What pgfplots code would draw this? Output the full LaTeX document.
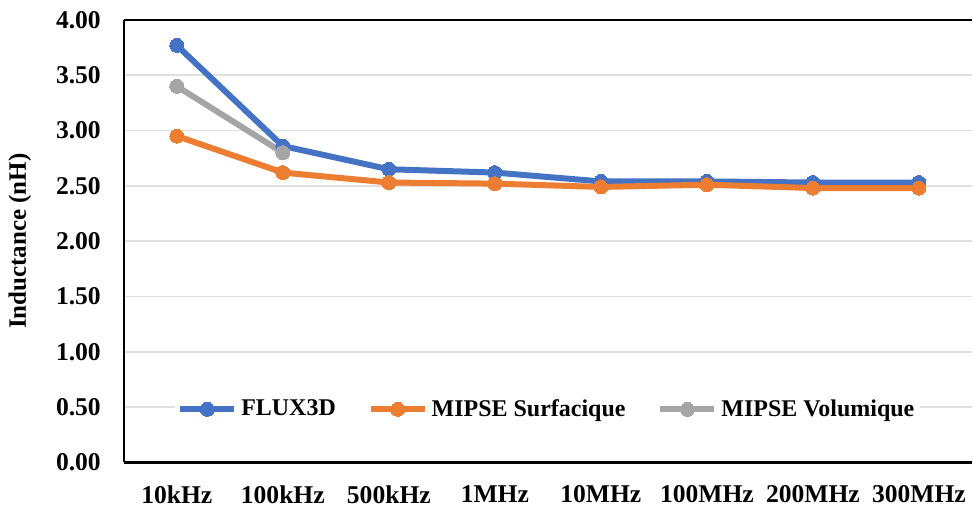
\documentclass[border=0pt]{standalone}
\usepackage{fontspec}
\setmainfont{Liberation Serif}
\usepackage{pgfplots}
\pgfplotsset{compat=1.18}
\definecolor{cblue}{HTML}{4472C4}
\definecolor{corange}{HTML}{ED7D31}
\definecolor{cgray}{HTML}{A5A5A5}
\begin{document}
\begin{tikzpicture}
\begin{axis}[
  scale only axis, width=424.5pt, height=221.5pt,
  xmin=-0.5, xmax=7.5, ymin=0, ymax=4,
  axis x line=box, axis y line=left,
  axis line style={-, black, line width=1.1pt},
  clip=false,
  xtick={0,...,7},
  xticklabels={10kHz,100kHz,500kHz,1MHz,10MHz,100MHz,200MHz,300MHz},
  ytick={0,0.5,...,4},
  yticklabel={\pgfmathprintnumber[fixed,fixed zerofill,precision=2,assume math mode=true]{\tick}},
  major tick length=0pt,
  ymajorgrids, grid style={black!12, line width=0.8pt},
  tick label style={font=\fontsize{12.8}{15}\selectfont\bfseries},
  xticklabel style={yshift=-8pt},
  yticklabel style={xshift=-8pt},
  ylabel={Inductance (nH)},
  every axis y label/.style={at={(axis description cs:-0.1225,0.5)}, rotate=90, anchor=center,
    font=\fontsize{12.5}{15}\selectfont\bfseries},
  legend style={at={(0.5,0.12)}, anchor=center, draw=none, fill=white, legend columns=-1,
    font=\fontsize{12}{14}\selectfont\bfseries, inner sep=1pt,
    /tikz/every even column/.append style={column sep=14pt}},
  legend image code/.code={\draw[mark repeat=2,mark phase=2] plot coordinates {(0pt,0pt) (13.5pt,0pt) (27pt,0pt)};},
]
\path (axis description cs:-0.146,-0.1038) rectangle (axis description cs:1,1.045);
\addplot[cblue, line width=3pt, mark=*, mark size=3.5pt, mark options={fill=cblue, draw=cblue, line width=0pt}]
  coordinates {(0,3.77) (1,2.86) (2,2.65) (3,2.62) (4,2.54) (5,2.54) (6,2.53) (7,2.53)};
\addlegendentry{FLUX3D}
\addplot[corange, line width=3pt, mark=*, mark size=3.5pt, mark options={fill=corange, draw=corange, line width=0pt}]
  coordinates {(0,2.95) (1,2.62) (2,2.53) (3,2.52) (4,2.49) (5,2.51) (6,2.48) (7,2.48)};
\addlegendentry{MIPSE Surfacique}
\addplot[cgray, line width=3pt, mark=*, mark size=3.5pt, mark options={fill=cgray, draw=cgray, line width=0pt}]
  coordinates {(0,3.40) (1,2.80)};
\addlegendentry{MIPSE Volumique}
\end{axis}
\end{tikzpicture}
\end{document}
